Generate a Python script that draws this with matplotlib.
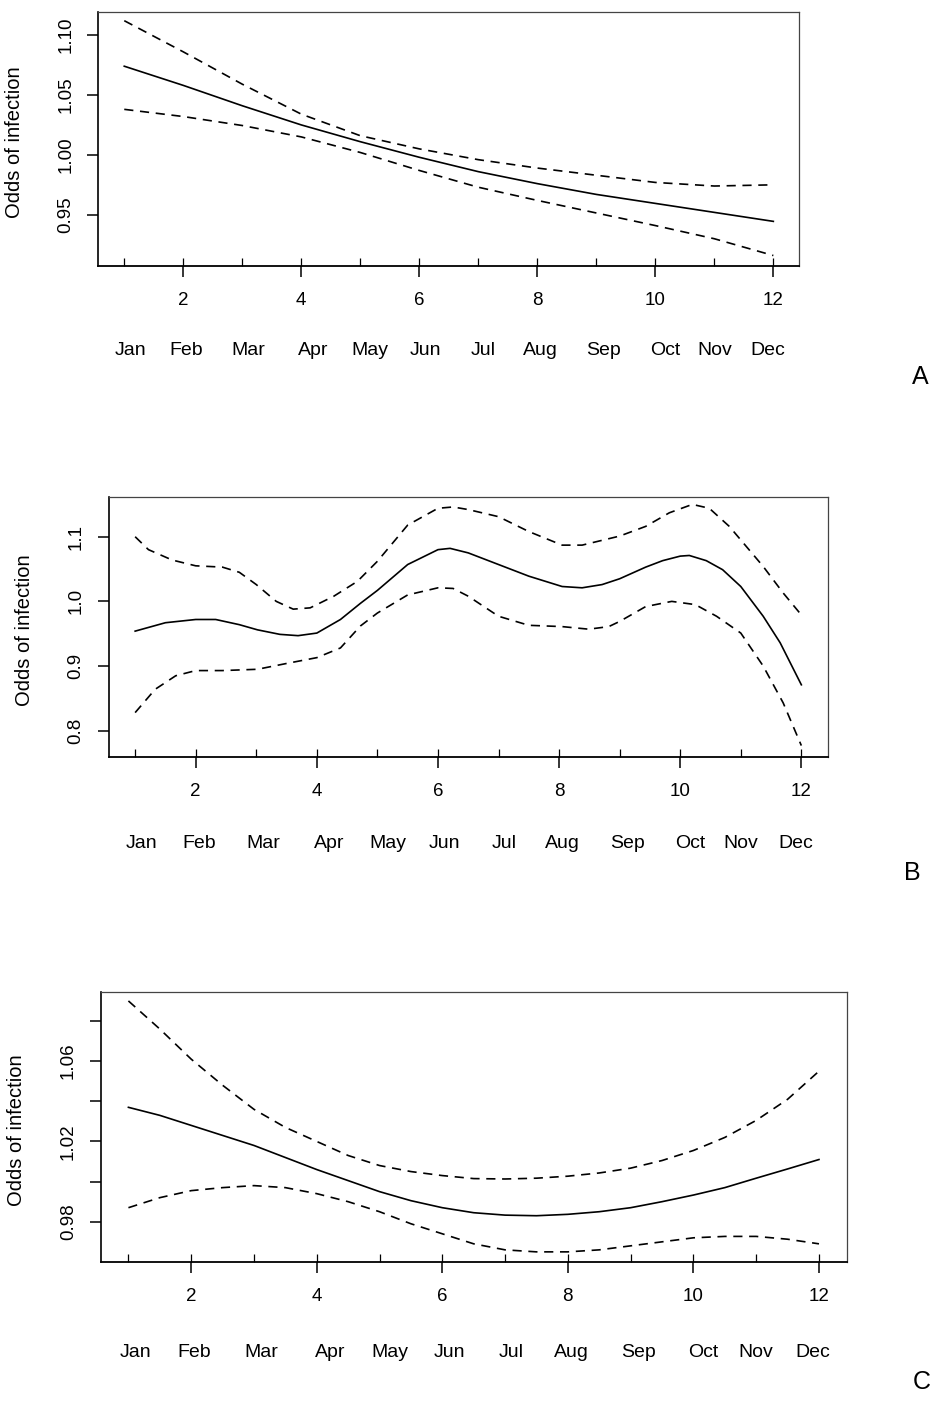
import numpy as np
import matplotlib.pyplot as plt

W, H = 935, 1401
PT = 72 / 100  # points per pixel at dpi 100

months = ['Jan', 'Feb', 'Mar', 'Apr', 'May', 'Jun',
          'Jul', 'Aug', 'Sep', 'Oct', 'Nov', 'Dec']
month_x = [1.11, 2.05, 3.11, 4.21, 5.17, 6.11, 7.09, 8.06, 9.13, 10.16, 11.0, 11.9]

# panel A
x_a = [1, 2, 3, 4, 5, 6, 7, 8, 9, 10, 11, 12]
fit_a = [1.074, 1.058, 1.041, 1.025, 1.011, 0.998, 0.986, 0.976, 0.967, 0.9595, 0.952, 0.9445]
up_a = [1.112, 1.086, 1.059, 1.034, 1.016, 1.005, 0.996, 0.989, 0.983, 0.977, 0.974, 0.975]
lo_a = [1.038, 1.032, 1.0245, 1.015, 1.002, 0.987, 0.973, 0.962, 0.9515, 0.941, 0.930, 0.916]

# panel B
xfit_b = [1.0, 1.5, 2.0, 2.33, 2.72, 3.02, 3.39, 3.69, 4.0, 4.39, 4.72, 5.0, 5.5, 6.0, 6.2,
          6.5, 7.0, 7.5, 8.05, 8.38, 8.71, 9.0, 9.43, 9.71, 10.0, 10.15, 10.43, 10.7, 11.0,
          11.37, 11.65, 12.0]
fit_b = [0.954, 0.967, 0.972, 0.972, 0.964, 0.956, 0.949, 0.947, 0.951, 0.972, 0.997, 1.017,
         1.057, 1.080, 1.082, 1.075, 1.057, 1.039, 1.023, 1.021, 1.026, 1.035, 1.053, 1.063,
         1.070, 1.071, 1.063, 1.049, 1.023, 0.977, 0.936, 0.871]
xup_b = [1.0, 1.22, 1.61, 2.0, 2.44, 2.72, 3.0, 3.33, 3.61, 3.89, 4.28, 4.67, 5.0, 5.5, 6.0,
         6.25, 6.5, 7.0, 7.5, 8.05, 8.38, 9.0, 9.43, 9.82, 10.2, 10.48, 10.81, 11.0, 11.37,
         11.7, 12.0]
up_b = [1.100, 1.080, 1.064, 1.055, 1.053, 1.045, 1.026, 1.000, 0.988, 0.990, 1.008, 1.031,
        1.062, 1.118, 1.144, 1.146, 1.142, 1.131, 1.108, 1.087, 1.087, 1.101, 1.116, 1.137,
        1.150, 1.144, 1.116, 1.095, 1.054, 1.013, 0.979]
xlo_b = [1.0, 1.33, 1.67, 2.0, 2.44, 3.02, 3.5, 4.0, 4.39, 4.72, 5.0, 5.5, 6.0, 6.25, 6.5,
         7.0, 7.5, 8.05, 8.49, 8.82, 9.0, 9.43, 9.86, 10.25, 10.6, 11.0, 11.37, 11.7, 12.0]
lo_b = [0.828, 0.864, 0.885, 0.893, 0.893, 0.895, 0.904, 0.913, 0.928, 0.962, 0.982, 1.010,
        1.021, 1.020, 1.008, 0.977, 0.963, 0.961, 0.957, 0.961, 0.969, 0.992, 1.000, 0.995,
        0.977, 0.951, 0.900, 0.843, 0.777]

# panel C
x_c = [1.0, 1.5, 2.0, 2.5, 3.0, 3.5, 4.0, 4.5, 5.0, 5.5, 6.0, 6.5, 7.0, 7.5, 8.0, 8.5,
       9.0, 9.5, 10.0, 10.5, 11.0, 11.5, 12.0]
fit_c = [1.037, 1.033, 1.028, 1.023, 1.018, 1.012, 1.006, 1.0005, 0.995, 0.9905, 0.987,
         0.9845, 0.9833, 0.983, 0.9837, 0.985, 0.987, 0.990, 0.9933, 0.997, 1.0017, 1.0063, 1.011]
up_c = [1.090, 1.076, 1.061, 1.048, 1.036, 1.027, 1.020, 1.013, 1.008, 1.005, 1.003, 1.0015,
        1.0013, 1.0017, 1.0027, 1.0043, 1.0067, 1.0105, 1.0155, 1.022, 1.0305, 1.041, 1.055]
lo_c = [0.987, 0.992, 0.9955, 0.997, 0.998, 0.997, 0.994, 0.990, 0.985, 0.979, 0.974, 0.969,
        0.966, 0.965, 0.965, 0.966, 0.968, 0.970, 0.972, 0.9727, 0.9727, 0.9713, 0.969]

plt.rcParams['font.family'] = ['Liberation Sans', 'DejaVu Sans']

fig = plt.figure(figsize=(W / 100, H / 100), dpi=100)


def panel(box, ylim, yticks, ylabels, month_drop, letter, letter_xy):
    l, t, r, b = box
    ax = fig.add_axes([l / W, 1 - b / H, (r - l) / W, (b - t) / H])
    ax.set_xlim(0.56, 12.44)
    ax.set_ylim(*ylim)

    ax.set_xticks(range(2, 13, 2))
    ax.set_xticks(range(1, 13), minor=True)
    ax.xaxis.remove_overlapping_locs = False
    ax.tick_params(axis='x', which='major', direction='out', length=11.5 * PT,
                   width=1.1, pad=11, labelsize=13.5)
    ax.tick_params(axis='x', which='minor', direction='in', length=8.5 * PT, width=0.9)

    ax.set_yticks(yticks)
    ax.set_yticklabels(ylabels, rotation=90, va='center')
    ax.tick_params(axis='y', direction='out', length=11.5 * PT, width=1.1,
                   pad=9, labelsize=13.5)

    for side in ['top', 'right']:
        ax.spines[side].set_linewidth(0.9)
        ax.spines[side].set_color('#444444')
    ax.spines['bottom'].set_linewidth(1.3)
    ax.spines['left'].set_linewidth(1.2)

    for mx, m in zip(month_x, months):
        ax.annotate(m, xy=(mx, 0), xycoords=('data', 'axes fraction'),
                    xytext=(0, -month_drop * PT), textcoords='offset points',
                    ha='center', va='center', fontsize=14)
    ax.annotate('Odds of infection', xy=(0, 0.5), xycoords='axes fraction',
                xytext=(-84 * PT, -3 * PT), textcoords='offset points',
                rotation=90, ha='center', va='center', fontsize=14.5)
    fig.text(letter_xy[0] / W, 1 - letter_xy[1] / H, letter,
             fontsize=18, ha='center', va='center')
    return ax


ax = panel((98.3, 11.7, 799.3, 265.7), (0.9075, 1.1195),
           [0.95, 1.00, 1.05, 1.10], ['0.95', '1.00', '1.05', '1.10'],
           85, 'A', (920, 377))
ax.plot(x_a, fit_a, color='black', lw=1.2)
ax.plot(x_a, up_a, color='black', lw=1.2, dashes=(5.5, 4))
ax.plot(x_a, lo_a, color='black', lw=1.2, dashes=(5.5, 4))

ax = panel((108.5, 496.7, 828, 756.7), (0.7598, 1.1619),
           [0.8, 0.9, 1.0, 1.1], ['0.8', '0.9', '1.0', '1.1'],
           87, 'B', (912, 873))
ax.plot(xfit_b, fit_b, color='black', lw=1.2)
ax.plot(xup_b, up_b, color='black', lw=1.2, dashes=(5.5, 4))
ax.plot(xlo_b, lo_b, color='black', lw=1.2, dashes=(5.5, 4))

ax = panel((100.8, 991.7, 846.6, 1261.7), (0.9601, 1.0946),
           [0.98, 1.00, 1.02, 1.04, 1.06, 1.08], ['0.98', '', '1.02', '', '1.06', ''],
           91, 'C', (922, 1382))
ax.plot(x_c, fit_c, color='black', lw=1.2)
ax.plot(x_c, up_c, color='black', lw=1.2, dashes=(5.5, 4))
ax.plot(x_c, lo_c, color='black', lw=1.2, dashes=(5.5, 4))

fig.savefig('out.png', dpi=100)
